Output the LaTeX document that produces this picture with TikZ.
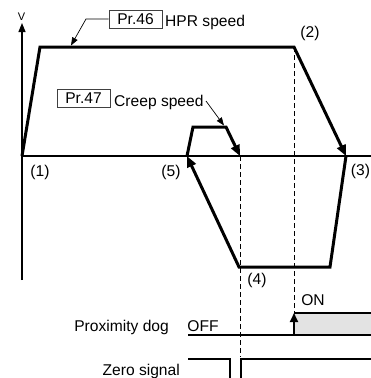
\documentclass[tikz,border=0pt]{standalone}
\usepackage{fontspec}
\setmainfont{Liberation Sans}
\usetikzlibrary{arrows.meta}
\begin{document}
\begin{tikzpicture}[x=1pt,y=-1pt,
  lbl/.style={inner sep=0pt,font=\fontsize{15.6}{15.6}\selectfont},
  prbox/.style={draw=black!75,line width=0.8pt,minimum width=53pt,minimum height=18pt,inner sep=0pt,font=\fontsize{15.6}{15.6}\selectfont},
  profile/.style={line width=3pt,-{Triangle[length=11pt,width=9pt]}},
  axis/.style={line width=1.2pt},
  guide/.style={line width=1pt,dash pattern=on 5pt off 3pt},
  leader/.style={line width=0.7pt,-{Triangle[length=8pt,width=6pt]}},
  sig/.style={line width=2pt},
  zsig/.style={line width=1.3pt}]
\useasboundingbox (0,0) rectangle (371,378);
% coordinates
\coordinate (o) at (22,156);
\coordinate (ytop) at (22,23);
\coordinate (ybot) at (22,280);
\coordinate (xend) at (371,156);
\coordinate (p1) at (40,47);
\coordinate (p2) at (294,47);
\coordinate (p3) at (346,156);
\coordinate (p4) at (330,267);
\coordinate (p5) at (239,267);
\coordinate (p6) at (187,156);
\coordinate (p7) at (193,127);
\coordinate (p8) at (226,127);
\coordinate (p9) at (240,156);
\coordinate (dogL) at (188,335);
\coordinate (dogR) at (371,335);
\coordinate (dogUp) at (294,335);
\coordinate (dogTop) at (294,313);
\coordinate (dogTR) at (371,313);
\coordinate (g2end) at (240,357);
\coordinate (zL1) at (188,359);
\coordinate (zL2) at (230,359);
\coordinate (zL3) at (230,379);
\coordinate (zR1) at (241,379);
\coordinate (zR2) at (241,359);
\coordinate (zR3) at (372,359);
% dog shading
\fill[gray!22] (dogTop) rectangle (dogR);
% axes
\draw[axis,-{Triangle[length=9pt,width=7pt]}] (ybot) -- (ytop);
\draw[axis] (o) -- (xend);
% guides
\draw[guide] (p2) -- (dogTop);
\draw[guide] (p9) -- (g2end);
% profile
\draw[profile] (o) -- (p1) -- (p2) -- (p3);
\draw[profile] (p3) -- (p4) -- (p5) -- (p6);
\draw[profile] (p6) -- (p7) -- (p8) -- (p9);
% labels
\node[inner sep=0pt,font=\fontsize{11}{11}\selectfont,anchor=base] (V) at (21.5,20) {V};
\node[lbl] (l1) at (40,172) {(1)};
\node[lbl] (l5) at (171,172) {(5)};
\node[lbl] (l2) at (310,33) {(2)};
\node[lbl] (l3) at (360.5,171) {(3)};
\node[lbl] (l4) at (257,280) {(4)};
% parameter boxes
\node[prbox] (pr46) at (135.5,19) {Pr.46};
\node[lbl,anchor=base west] (hpr) at (165,26) {HPR speed};
\node[prbox] (pr47) at (83.5,98.5) {Pr.47};
\node[lbl,anchor=base west] (creep) at (114,106) {Creep speed};
\coordinate (k46) at (86,19);
\coordinate (t46) at (71,45.5);
\draw[leader] (pr46.west) -- (k46) -- (t46);
\coordinate (s47) at (206,101);
\coordinate (t47) at (224,125.5);
\draw[leader] (s47) -- (t47);
% proximity dog
\draw[sig] (dogL) -- (dogR);
\draw[sig] (dogTop) -- (dogTR);
\draw[sig,-{Triangle[length=9pt,width=8pt]}] (dogUp) -- (dogTop);
\node[lbl,anchor=base] (on) at (313,305) {ON};
\node[lbl,anchor=base] (off) at (203,331) {OFF};
\node[lbl,anchor=base east] (prox) at (169,331) {Proximity dog};
% zero signal
\draw[zsig] (zL1) -- (zL2) -- (zL3);
\draw[zsig] (zR1) -- (zR2) -- (zR3);
\node[lbl,anchor=base east] (zero) at (180,375) {Zero signal};
\end{tikzpicture}
\end{document}
